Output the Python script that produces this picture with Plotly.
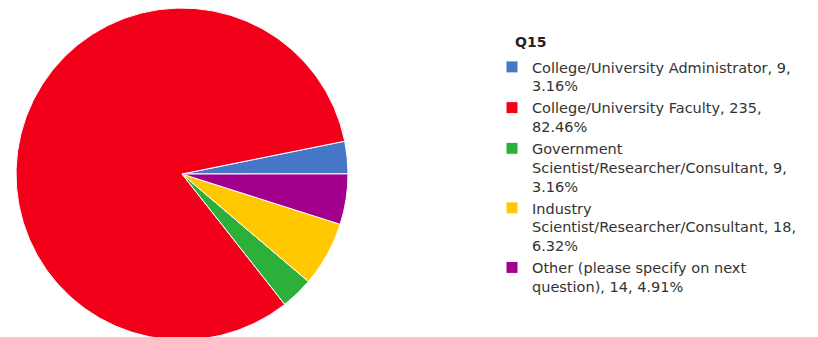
import plotly.graph_objects as go

categories = [
    "College/University Administrator, 9,<br>3.16%",
    "College/University Faculty, 235,<br>82.46%",
    "Government<br>Scientist/Researcher/Consultant, 9,<br>3.16%",
    "Industry<br>Scientist/Researcher/Consultant, 18,<br>6.32%",
    "Other (please specify on next<br>question), 14, 4.91%",
]
counts = [9, 235, 9, 18, 14]
colors = ["#4677C6", "#F2001A", "#2DB03A", "#FFC800", "#A2008C"]
legend_title = "Q15"

# page has an 8px body margin; positions below are in figure pixels
W, H = 818, 337

fig = go.Figure(
    go.Pie(
        labels=categories,
        values=counts,
        sort=False,
        direction="counterclockwise",
        rotation=78.6,
        textinfo="none",
        hoverinfo="label",
        marker=dict(colors=colors, line=dict(color="white", width=1)),
        domain=dict(x=[8 / W, 340 / W], y=[5 / H, 1]),
    )
)

fig.update_layout(
    width=W,
    height=H,
    margin=dict(l=0, r=0, t=0, b=0),
    paper_bgcolor="white",
    plot_bgcolor="white",
    font=dict(family="DejaVu Sans", size=14.5, color="#333333"),
    showlegend=True,
    legend=dict(
        x=484 / W,
        y=1 - 43 / H,
        xanchor="left",
        yanchor="top",
        valign="top",
        traceorder="normal",
        font=dict(family="DejaVu Sans", size=14.5, color="#333333"),
        bgcolor="rgba(0,0,0,0)",
    ),
    annotations=[
        dict(
            text="<b>" + legend_title + "</b>",
            x=505 / W,
            y=1 - 34 / H,
            xref="paper",
            yref="paper",
            xanchor="left",
            yanchor="middle",
            showarrow=False,
            font=dict(family="DejaVu Sans", size=14, color="#222222"),
        )
    ],
)

fig.write_html("out.html")
